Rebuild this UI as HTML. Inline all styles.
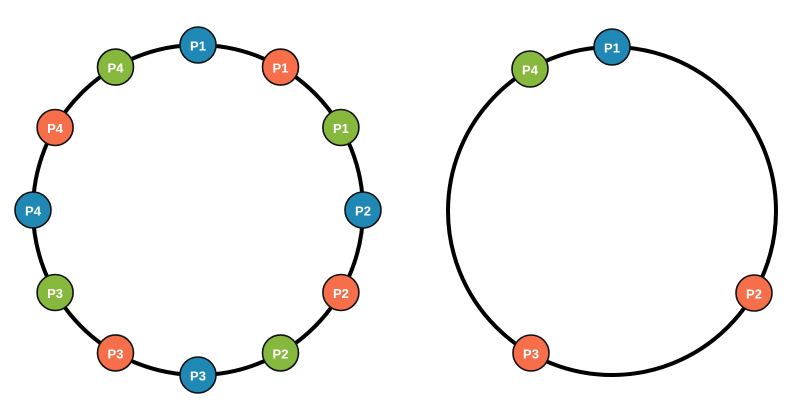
<!DOCTYPE html>
<html><head><style>html,body{margin:0;padding:0;background:#fff;}svg{display:block}</style></head>
<body>
<svg width="800" height="416" viewBox="0 0 800 416" xmlns="http://www.w3.org/2000/svg">
<defs><style>
text{font-family:"Liberation Sans",sans-serif;font-weight:bold;font-size:13px;fill:#fff;text-anchor:middle;dominant-baseline:central}
.b{fill:#1f88b4}.o{fill:#f76e4a}.g{fill:#86b83e}
circle.n{stroke:#111;stroke-width:1.6}
</style></defs>
<circle cx="198" cy="210" r="165" fill="none" stroke="#000" stroke-width="4"/>
<circle cx="612" cy="211" r="164" fill="none" stroke="#000" stroke-width="4"/>
<g>
<circle class="n b" cx="198" cy="45" r="18"/><text x="198" y="46">P1</text>
<circle class="n o" cx="280.5" cy="67.1" r="18"/><text x="280.5" y="68">P1</text>
<circle class="n g" cx="340.9" cy="127.5" r="18"/><text x="340.9" y="128.5">P1</text>
<circle class="n b" cx="363" cy="210" r="18"/><text x="363" y="211">P2</text>
<circle class="n o" cx="340.9" cy="292.5" r="18"/><text x="340.9" y="293.5">P2</text>
<circle class="n g" cx="280.5" cy="352.9" r="18"/><text x="280.5" y="354">P2</text>
<circle class="n b" cx="198" cy="375" r="18"/><text x="198" y="376">P3</text>
<circle class="n o" cx="115.5" cy="352.9" r="18"/><text x="115.5" y="354">P3</text>
<circle class="n g" cx="55.1" cy="292.5" r="18"/><text x="55.1" y="293.5">P3</text>
<circle class="n b" cx="33" cy="210" r="18"/><text x="33" y="211">P4</text>
<circle class="n o" cx="55.1" cy="127.5" r="18"/><text x="55.1" y="128.5">P4</text>
<circle class="n g" cx="115.5" cy="67.1" r="18"/><text x="115.5" y="68">P4</text>

<circle class="n b" cx="612" cy="47" r="18"/><text x="612" y="48">P1</text>
<circle class="n g" cx="530" cy="69" r="18"/><text x="530" y="70">P4</text>
<circle class="n o" cx="754" cy="293" r="18"/><text x="754" y="294">P2</text>
<circle class="n o" cx="531" cy="353" r="18"/><text x="531" y="354">P3</text>
</g>
</svg>
</body></html>
